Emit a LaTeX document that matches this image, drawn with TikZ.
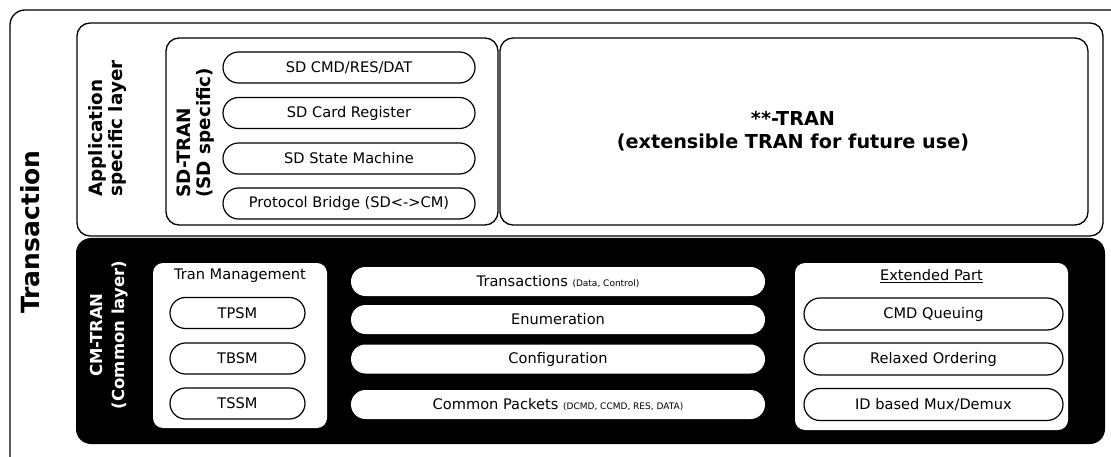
\documentclass[tikz,border=0pt]{standalone}
\usepackage{fontspec}
\setmainfont{DejaVu Sans}
\usetikzlibrary{shapes.misc}
\tikzset{
  frame/.style={draw, line width=1.3pt, rounded corners=13pt, inner sep=0pt},
  wbox/.style={fill=white, rounded corners=10pt, inner sep=0pt},
  pill/.style={draw, line width=1.2pt, rounded rectangle, fill=white, inner sep=0pt, font=\fontsize{14.6}{17}\selectfont},
  wpill/.style={fill=white, rounded rectangle, inner sep=0pt, font=\fontsize{14.6}{17}\selectfont},
  vlabel/.style={rotate=90, font=\bfseries\fontsize{18.4}{20}\selectfont, inner sep=0pt},
}
\newcommand{\smallnote}[1]{{\fontsize{9}{10}\selectfont #1}}
\begin{document}
\begin{tikzpicture}[x=1pt, y=-1pt]
\useasboundingbox (0,0) rectangle (1111,457);
\clip (0,0) rectangle (1111,457);
% outer transaction frame (cropped at right and bottom)
\draw[line width=1.3pt, rounded corners=15pt] (10,470) -- (10,10) -- (1130,10);
\node[rotate=90, font=\bfseries\fontsize{25}{27}\selectfont, inner sep=0pt] (trans) at (30,232) {Transaction};

% application specific layer
\node[frame, minimum width=1026pt, minimum height=213pt] (app) at (590,129.5) {};
\node[vlabel, align=left, anchor=west] (applbl) at (107,197) {Application\\specific layer};

% SD-TRAN
\node[frame, minimum width=332pt, minimum height=187pt] (sdtran) at (332,131.5) {};
\node[vlabel, align=left, anchor=west] (sdlbl) at (196,198) {SD-TRAN\\(SD specific)};
\node[pill, minimum width=252pt, minimum height=31pt] (sdcmd) at (349,67.5) {SD CMD/RES/DAT};
\node[pill, minimum width=252pt, minimum height=31pt] (sdreg) at (349,113) {SD Card Register};
\node[pill, minimum width=252pt, minimum height=31pt] (sdsm) at (349,158.5) {SD State Machine};
\node[pill, minimum width=252pt, minimum height=31pt] (sdpb) at (349,203.5) {Protocol Bridge (SD<->CM)};

% **-TRAN
\node[frame, minimum width=588pt, minimum height=187pt] (xtran) at (794,131.5) {};
\node[font=\bfseries\fontsize{19.2}{23}\selectfont, align=center] (xlbl) at (793,131) {**-TRAN\\(extensible TRAN for future use)};

% CM-TRAN common layer
\node[fill=black, rounded corners=15pt, inner sep=0pt, minimum width=1029pt, minimum height=206pt] (cm) at (590.5,341) {};
\node[rotate=90, font=\bfseries\fontsize{16.5}{22}\selectfont, inner sep=0pt, text=white, align=center] (cmlbl) at (109,335) {CM-TRAN\\(Common layer)};

% Tran Management
\node[wbox, minimum width=174pt, minimum height=165pt] (tm) at (240,345.5) {};
\node[font=\fontsize{14.6}{17}\selectfont, inner sep=0pt] (tmlbl) at (240,276) {Tran Management};
\node[pill, minimum width=135pt, minimum height=31pt] (tpsm) at (237.5,313) {TPSM};
\node[pill, minimum width=135pt, minimum height=31pt] (tbsm) at (237.5,358.5) {TBSM};
\node[pill, minimum width=135pt, minimum height=31pt] (tssm) at (237.5,403.5) {TSSM};

% middle items
\node[wpill, minimum width=414pt, minimum height=29pt] (trx) at (558,281.5) {Transactions \smallnote{(Data, Control)}};
\node[wpill, minimum width=414pt, minimum height=29pt] (enum) at (558,319.5) {Enumeration};
\node[wpill, minimum width=414pt, minimum height=29pt] (conf) at (558,359) {Configuration};
\node[wpill, minimum width=414pt, minimum height=29pt] (cpk) at (558,404.5) {Common Packets \smallnote{(DCMD, CCMD, RES, DATA)}};

% Extended part
\node[wbox, minimum width=273pt, minimum height=167pt] (ext) at (931.5,346.5) {};
\node[font=\fontsize{14.6}{17}\selectfont, inner sep=0pt] (extlbl) at (931.5,276) {\underline{Extended Part}};
\node[pill, minimum width=259pt, minimum height=32pt] (cmdq) at (933.5,314) {CMD Queuing};
\node[pill, minimum width=259pt, minimum height=32pt] (relax) at (933.5,359) {Relaxed Ordering};
\node[pill, minimum width=259pt, minimum height=32pt] (mux) at (933.5,404.5) {ID based Mux/Demux};
\end{tikzpicture}
\end{document}
